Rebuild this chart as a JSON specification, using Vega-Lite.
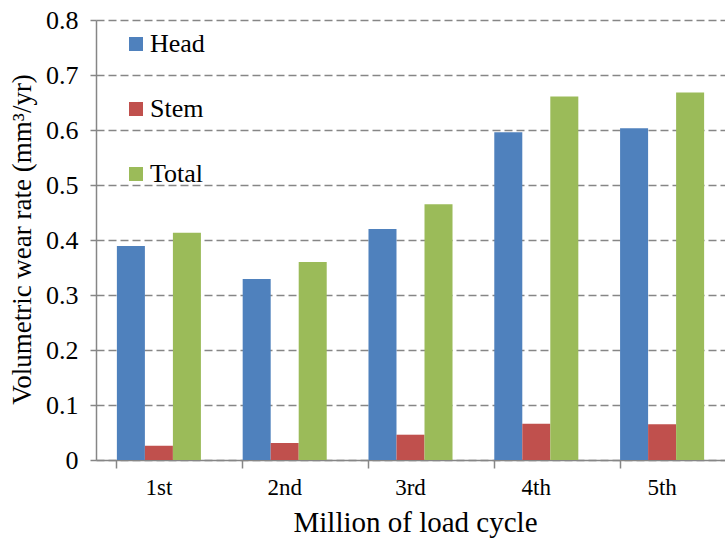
{
  "$schema": "https://vega.github.io/schema/vega-lite/v6.json",
  "width": 629,
  "height": 440,
  "autosize": {"type": "none"},
  "padding": {"left": 96, "top": 20, "right": 0, "bottom": 82},
  "background": "white",
  "data": {
    "values": [
      {"cycle": "1st", "part": "Head", "rate": 0.389},
      {"cycle": "1st", "part": "Stem", "rate": 0.026},
      {"cycle": "1st", "part": "Total", "rate": 0.413},
      {"cycle": "2nd", "part": "Head", "rate": 0.329},
      {"cycle": "2nd", "part": "Stem", "rate": 0.031},
      {"cycle": "2nd", "part": "Total", "rate": 0.36},
      {"cycle": "3rd", "part": "Head", "rate": 0.42},
      {"cycle": "3rd", "part": "Stem", "rate": 0.046},
      {"cycle": "3rd", "part": "Total", "rate": 0.465},
      {"cycle": "4th", "part": "Head", "rate": 0.596},
      {"cycle": "4th", "part": "Stem", "rate": 0.066},
      {"cycle": "4th", "part": "Total", "rate": 0.661},
      {"cycle": "5th", "part": "Head", "rate": 0.603},
      {"cycle": "5th", "part": "Stem", "rate": 0.065},
      {"cycle": "5th", "part": "Total", "rate": 0.668}
    ]
  },
  "mark": {"type": "bar"},
  "encoding": {
    "x": {
      "field": "cycle",
      "type": "nominal",
      "sort": ["1st", "2nd", "3rd", "4th", "5th"],
      "scale": {"paddingInner": 0.332, "paddingOuter": 0.166},
      "axis": {
        "title": "Million of load cycle",
        "titleFont": "Liberation Serif",
        "titleFontSize": 29,
        "titleFontWeight": "normal",
        "titleColor": "black",
        "titleX": 319,
        "titleY": 62,
        "titleBaseline": "middle",
        "labelAngle": 0,
        "labelFont": "Liberation Serif",
        "labelFontSize": 23,
        "labelColor": "black",
        "labelPadding": 8,
        "bandPosition": 0,
        "tickSize": 8,
        "tickColor": "#868686",
        "tickWidth": 1.5,
        "domainColor": "#868686",
        "domainWidth": 1.5,
        "grid": false
      }
    },
    "xOffset": {
      "field": "part",
      "type": "nominal",
      "sort": ["Head", "Stem", "Total"],
      "scale": {"paddingInner": 0, "paddingOuter": 0}
    },
    "y": {
      "field": "rate",
      "type": "quantitative",
      "scale": {"domain": [0, 0.8], "nice": false},
      "axis": {
        "title": "Volumetric wear rate (mm³/yr)",
        "titleFont": "Liberation Serif",
        "titleFontSize": 27,
        "titleFontWeight": "normal",
        "titleColor": "black",
        "titleX": -74,
        "titleY": 219,
        "titleAngle": -90,
        "titleAlign": "center",
        "titleBaseline": "middle",
        "values": [0, 0.1, 0.2, 0.3, 0.4, 0.5, 0.6, 0.7, 0.8],
        "labelExpr": "datum.value == 0 ? '0' : format(datum.value, '.1f')",
        "labelFont": "Liberation Serif",
        "labelFontSize": 26,
        "labelColor": "black",
        "labelPadding": 12,
        "tickSize": 6,
        "tickColor": "#868686",
        "tickWidth": 1.5,
        "domainColor": "#868686",
        "domainWidth": 1.5,
        "grid": true,
        "gridColor": "#868686",
        "gridWidth": 1.3,
        "gridDash": [8, 4]
      }
    },
    "color": {
      "field": "part",
      "type": "nominal",
      "sort": ["Head", "Stem", "Total"],
      "scale": {"domain": ["Head", "Stem", "Total"], "range": ["#4F81BD", "#C0504D", "#9BBB59"]},
      "legend": {
        "title": null,
        "orient": "none",
        "legendX": 27,
        "legendY": 11,
        "direction": "vertical",
        "symbolType": "square",
        "symbolSize": 196,
        "symbolStrokeWidth": 0,
        "labelFont": "Liberation Serif",
        "labelFontSize": 26,
        "labelColor": "black",
        "labelOffset": 1,
        "rowPadding": 39
      }
    }
  },
  "config": {
    "view": {"stroke": null}
  }
}
